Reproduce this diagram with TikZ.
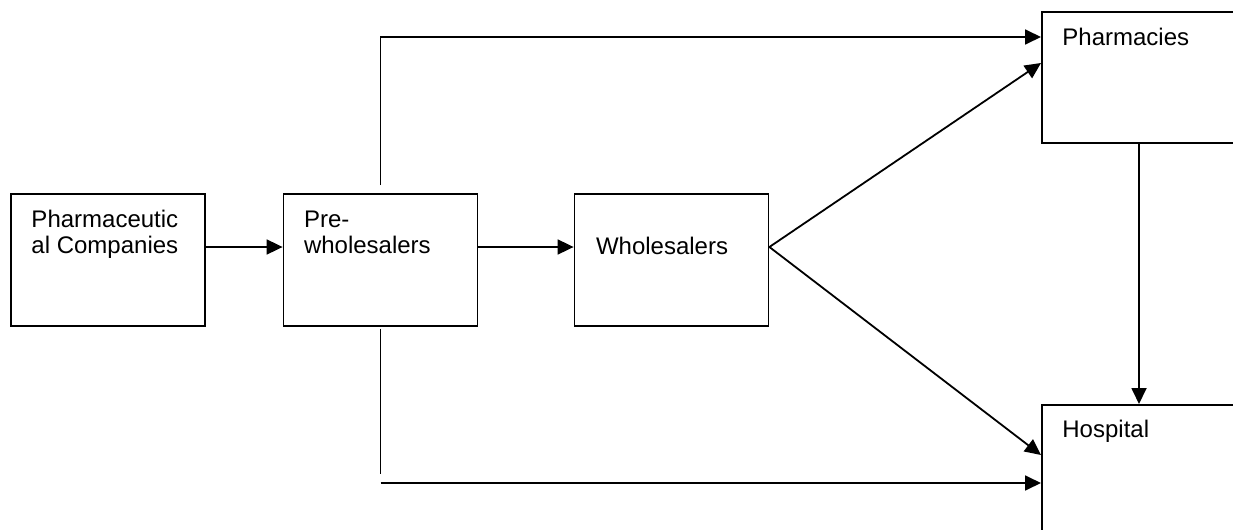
\documentclass[tikz,border=0pt]{standalone}
\usepackage{fontspec}
\setmainfont{Liberation Sans}
\usetikzlibrary{arrows.meta, positioning, calc}
\tikzset{
  stagebox/.style={draw, line width=0.9pt, minimum width=97pt, minimum height=66pt, inner sep=0pt},
  stagetext/.style={anchor=north west, inner sep=0pt, align=left, font=\fontsize{12}{13}\selectfont},
  plainline/.style={line width=0.9pt},
  flowarr/.style={-{Triangle[length=8pt, width=7.5pt]}, line width=0.9pt},
}
\begin{document}
\begin{tikzpicture}[x=0.5pt, y=-0.5pt]
    \useasboundingbox (0,0) rectangle (1233,530);
    \clip (0,0) rectangle (1233,530);
    % boxes
    \node[stagebox] (pc) at (108,260) {};
    \node[stagebox] (pw) at (380.5,260) {};
    \node[stagebox] (ws) at (671.5,260) {};
    \node[stagebox, anchor=north west, minimum width=130pt, minimum height=65.5pt] (ph) at (1041,11) {};
    \node[stagebox, anchor=north west, minimum width=130pt, minimum height=80pt] (hosp) at (1041,404) {};
    % texts
    \node[stagetext] (pctext) at ($(pc.north west)+(21,17)$) {Pharmaceutic\\al Companies};
    \node[stagetext] (pwtext) at ($(pw.north west)+(21,17)$) {Pre-\\wholesalers};
    \node[stagetext] (wstext) at ($(ws.north west)+(22,44)$) {Wholesalers};
    \node[stagetext] (phtext) at ($(ph.north west)+(21,17)$) {Pharmacies};
    \node[stagetext] (hosptext) at ($(hosp.north west)+(21,16)$) {Hospital};
    % helper coordinates
    \coordinate (midrow) at (0,247);
    \coordinate (dropx) at (1139,0);
    \coordinate (pwtail) at (380.5,474);
    \coordinate (lowstart) at (380.5,483);
    % connectors
    \draw[flowarr] (pc.east |- midrow) -- (pw.west |- midrow);
    \draw[flowarr] (pw.east |- midrow) -- (ws.west |- midrow);
    \draw[flowarr] (ws.east |- midrow) -- ($(ph.north west)+(0,52)$);
    \draw[flowarr] (ws.east |- midrow) -- ($(hosp.north west)+(0,51)$);
    \draw[flowarr] ([yshift=4pt]pw.north) |- ($(ph.north west)+(0,26)$);
    \draw[plainline] ([yshift=-1pt]pw.south) -- (pwtail);
    \draw[flowarr] (lowstart) -- (lowstart -| hosp.west);
    \draw[flowarr] (ph.south -| dropx) -- (hosp.north -| dropx);
\end{tikzpicture}
\end{document}
